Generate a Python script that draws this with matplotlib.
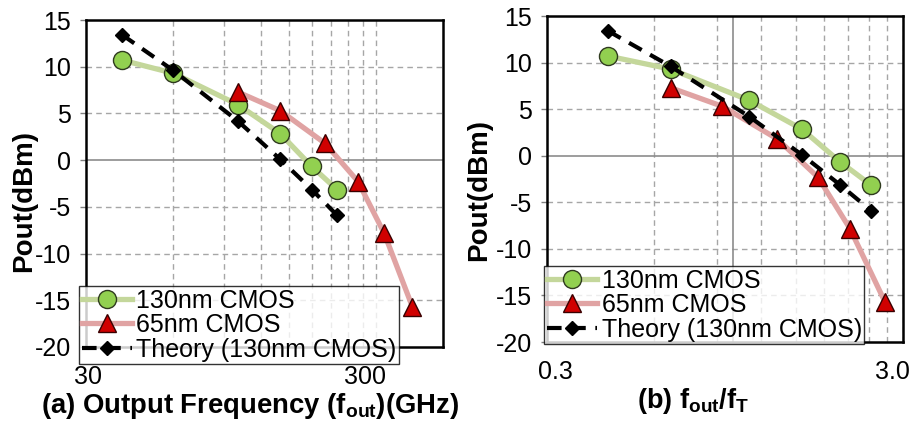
import matplotlib
matplotlib.use('Agg')
import matplotlib.pyplot as plt
from matplotlib import transforms

plt.rcParams['font.family'] = ['Liberation Sans', 'DejaVu Sans']
plt.rcParams['axes.unicode_minus'] = False
plt.rcParams['mathtext.fontset'] = 'custom'
plt.rcParams['mathtext.rm'] = 'Liberation Sans:bold'
plt.rcParams['mathtext.it'] = 'Liberation Sans:bold'
plt.rcParams['mathtext.bf'] = 'Liberation Sans:bold'

# output frequency, GHz
f_130 = [40, 60, 100, 140, 180, 220]
f_65 = [100, 140, 200, 260, 320, 400]
# output frequency normalised to fT
r_130 = [0.445, 0.667, 1.11, 1.56, 2.0, 2.44]
r_65 = [0.667, 0.933, 1.33, 1.73, 2.13, 2.67]
# output power, dBm
pout_130 = [10.7, 9.3, 5.95, 2.85, -0.68, -3.15]
pout_65 = [7.3, 5.3, 1.8, -2.3, -7.85, -15.7]
pout_theory = [13.4, 9.6, 4.2, 0.1, -3.15, -5.9]

labels = ['130nm CMOS', '65nm CMOS', 'Theory (130nm CMOS)']
yticks = [-20, -15, -10, -5, 0, 5, 10, 15]

W, H = 915, 421
fig = plt.figure(figsize=(W / 100, H / 100), dpi=100)


def box(x0, y0, x1, y1):
    return [x0 / W, 1 - y1 / H, (x1 - x0) / W, (y1 - y0) / H]


def shift(label, dx):
    label.set_transform(label.get_transform() +
                        transforms.ScaledTranslation(dx / 100, 0, fig.dpi_scale_trans))


def panel(ax, x130, x65, xlim, major, minor, major_lbl, nudge, vline=None):
    ax.set_xscale('log')
    ax.set_xlim(*xlim)
    ax.set_ylim(-20, 15)

    for m in minor + major[1:]:
        ax.axvline(m, color='#a6a6a6', lw=1, ls=(0, (4, 3)), zorder=1)
    for y in yticks[1:-1]:
        if y == 0:
            ax.axhline(0, color='#8c8c8c', lw=1.2, zorder=1)
        else:
            ax.axhline(y, color='#a6a6a6', lw=1, ls=(0, (4, 3)), zorder=1)
    if vline is not None:
        ax.axvline(vline, color='#8c8c8c', lw=1.2, zorder=1)

    ax.plot(x130, pout_130, color='#c4d79b', lw=3.8, marker='o', ms=13,
            mfc='#92d050', mec='#2f3a1f', mew=1.0, label=labels[0], zorder=4)
    ax.plot(x65, pout_65, color='#e0a3a3', lw=3.8, marker='^', ms=13,
            mfc='#d00000', mec='#3a0000', mew=1.0, label=labels[1], zorder=4)
    ax.plot(x130, pout_theory, color='black', lw=3, ls=(0, (3.5, 2.3)),
            marker='D', ms=7.5, mfc='black', mec='black', label=labels[2], zorder=5)

    ax.set_xticks(major)
    ax.set_xticklabels(major_lbl)
    ax.set_xticks([], minor=True)
    ax.set_yticks(yticks)
    ax.tick_params(axis='x', length=0, pad=13, labelsize=18)
    ax.tick_params(axis='y', length=4, width=1, color='#808080', pad=7, labelsize=18)
    # keep the end labels inside the plot width
    first, last = ax.get_xticklabels()
    shift(first, nudge[0])
    shift(last, nudge[1])
    for s in ax.spines.values():
        s.set_color('black')
        s.set_linewidth(1.8)


ax1 = fig.add_axes(box(86, 20, 443, 347))
panel(ax1, f_130, f_65, (30, 510), [30, 300],
      [60, 90, 120, 150, 180, 210, 240, 270], ['30', '300'], (2, -11))

ax2 = fig.add_axes(box(547, 16, 903, 342))
panel(ax2, r_130, r_65, (0.3, 3.0), [0.3, 3.0],
      [0.6, 0.9, 1.2, 1.5, 1.8, 2.1, 2.4, 2.7], ['0.3', '3.0'], (8, -11), vline=1.0)

for ax, (lx, ly) in ((ax1, (79, 286)), (ax2, (544, 266))):
    leg = ax.legend(loc='upper left', bbox_to_anchor=(lx / W, 1 - ly / H),
                    bbox_transform=fig.transFigure, fontsize=18, frameon=True,
                    fancybox=False, borderpad=0.1, borderaxespad=0,
                    handlelength=2.0, handletextpad=0.2, labelspacing=0.02)
    leg.get_frame().set_edgecolor('black')
    leg.get_frame().set_linewidth(1.0)
    leg.set_zorder(10)

fig.text(24 / W, 1 - 201 / H, 'Pout(dBm)', rotation=90, fontsize=20,
         fontweight='bold', ha='center', va='center')
fig.text(479 / W, 1 - 190 / H, 'Pout(dBm)', rotation=90, fontsize=20,
         fontweight='bold', ha='center', va='center')
fig.text(250 / W, 1 - 413 / H, r'(a) Output Frequency (f$_{out}$)(GHz)',
         fontsize=19.8, fontweight='bold', ha='center', va='baseline')
fig.text(693 / W, 1 - 408 / H, r'(b) f$_{out}$/f$_{T}$',
         fontsize=19.5, fontweight='bold', ha='center', va='baseline')

fig.savefig('out.png', dpi=100)
